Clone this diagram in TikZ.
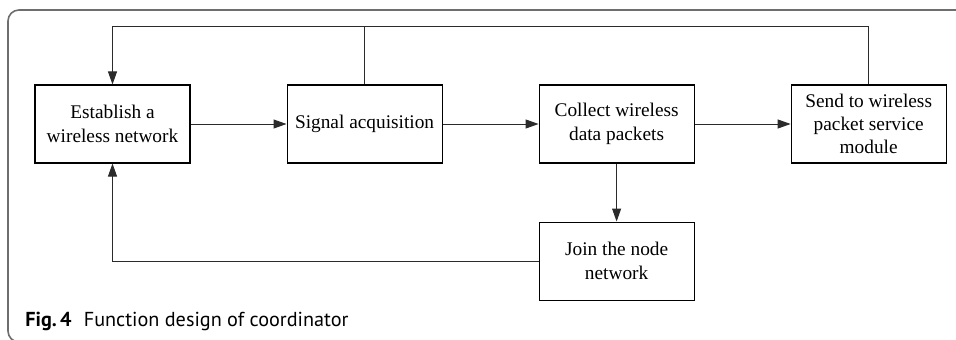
\documentclass[tikz,border=0pt]{standalone}
\usepackage{fontspec}
\setmainfont{Liberation Serif}
\newfontfamily\capfont{PT Sans}
\usepackage{tikz}
\usetikzlibrary{arrows.meta,calc,positioning}
\usepackage{xcolor}
\definecolor{framegray}{HTML}{6E6E6E}
\definecolor{linegray}{HTML}{2B2B2B}

\begin{document}
\begin{tikzpicture}[>={Triangle[length=2.6mm,width=1.8mm]},
  node distance=1.92cm,
  blk/.style={draw,line width=0.6pt,minimum width=3.1cm,minimum height=1.56cm,
    align=center,inner sep=1pt,font=\fontsize{11}{13.3}\selectfont},
  link/.style={draw=linegray,line width=0.55pt}]
  \useasboundingbox (-2.25,-4.30) rectangle (16.87,2.48);
  % outer frame, its right and bottom edges run off the page
  \draw[framegray,line width=0.9pt,rounded corners=0.22cm] (-2.09,-4.36) rectangle (17.2,2.28);
  % main row
  \node[blk] (est) at (0,0) {Establish a\\wireless network};
  \node[blk,right=of est] (sig) {Signal acquisition};
  \node[blk,right=of sig] (col) {Collect wireless\\data packets};
  \node[blk,right=of col] (send) {Send to wireless\\packet service\\module};
  \node[blk,below=1.16cm of col] (join) {Join the node\\network};
  \coordinate (bus) at ($(est.north)+(0,1.16)$);
  \draw[link,->] (est) -- (sig);
  \draw[link,->] (sig) -- (col);
  \draw[link,->] (col) -- (send);
  \draw[link,->] (col) -- (join);
  \draw[link,->] (join.west) -| (est.south);
  \draw[link,->] (send.north) |- (bus) -- (est.north);
  \draw[link] (sig.north) -- (sig.north |- bus);
  % caption
  \node[anchor=base west,inner sep=0pt,font=\capfont\fontsize{11.5}{14}\selectfont]
    (cap) at (-1.75,-4.04) {\textbf{Fig.\,4}\hspace{0.6em}Function design of coordinator};
\end{tikzpicture}
\end{document}
